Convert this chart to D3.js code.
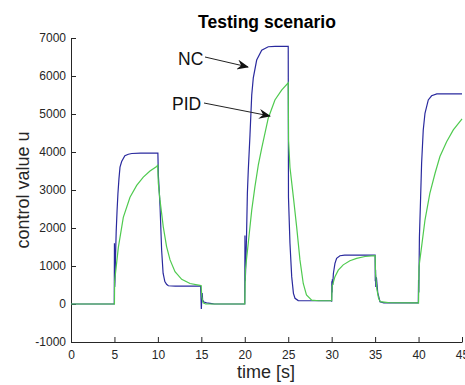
<!DOCTYPE html>
<html>
<head>
<meta charset="utf-8">
<script src="https://cdn.jsdelivr.net/npm/d3@7"></script>
<style>
  html, body { margin: 0; padding: 0; background: #fff; }
  svg { display: block; font-family: "Liberation Sans", Arial, sans-serif; }
</style>
</head>
<body>
<svg id="chart" width="465" height="385"></svg>
<script>
// ---- data ----
const chartTitle = "Testing scenario";
const xLabel = "time [s]";
const yLabel = "control value u";
const xTicks = [0, 5, 10, 15, 20, 25, 30, 35, 40, 45];
const yTicks = [-1000, 0, 1000, 2000, 3000, 4000, 5000, 6000, 7000];

const ncTime = [0, 4.98, 5.0, 5.03, 5.06, 5.12, 5.2, 5.3, 5.4, 5.52, 5.64, 5.83, 6.2, 6.6, 7.0, 8.0, 9.97,
  10.0, 10.05, 10.1, 10.25, 10.43, 10.6, 10.8, 11.0, 11.2, 12.0, 14.92,
  15.0, 15.05, 15.1, 15.15, 15.3, 15.6, 16.2, 16.5, 19.97,
  20.0, 20.02, 20.05, 20.1, 20.2, 20.3, 20.4, 20.6, 20.8, 20.98, 21.37, 21.95, 22.7, 23.5, 25.0,
  25.03, 25.2, 25.4, 25.6, 25.78, 26.15, 27.7, 29.98,
  30.0, 30.02, 30.05, 30.08, 30.12, 30.2, 30.38, 30.57, 30.95, 31.5, 35.0,
  35.02, 35.05, 35.08, 35.15, 35.3, 35.56, 36.0, 39.97,
  40.0, 40.03, 40.1, 40.24, 40.35, 40.54, 40.74, 41.12, 41.5, 42.1, 45.0];
const ncValue = [0, 0, 1600, 450, 600, 1200, 1900, 2450, 2900, 3300, 3600, 3750, 3900, 3940, 3960, 3970, 3970,
  3970, 3400, 3200, 2560, 1420, 810, 590, 520, 480, 470, 470,
  -130, 150, 290, 100, 50, 30, 10, 0, 0,
  0, 1800, 600, 900, 1770, 2920, 3500, 4450, 5500, 5950, 6420, 6680, 6770, 6780, 6780,
  2800, 1600, 720, 280, 150, 90, 85, 85,
  60, 600, 300, 650, 500, 810, 1070, 1200, 1270, 1285, 1290,
  600, 900, 450, 700, 300, 60, 30, 30,
  630, 300, 1770, 2820, 3700, 4580, 5020, 5370, 5480, 5530, 5530];

const pidTime = [0, 5.0, 5.02, 5.15, 5.45, 6.02, 6.79, 7.56, 8.32, 9.09, 9.86, 9.98,
  10.05, 10.24, 10.62, 11.0, 11.4, 11.97, 12.74, 13.7, 14.84, 14.98, 15.05, 15.2, 15.5, 20.0,
  20.07, 20.4, 20.8, 21.17, 21.56, 21.95, 22.7, 23.47, 24.24, 25.0,
  25.04, 25.2, 25.6, 25.97, 26.35, 26.73, 27.1, 27.7, 28.5, 30.0,
  30.05, 30.38, 30.76, 31.33, 32.1, 32.87, 33.83, 35.0,
  35.05, 35.2, 35.4, 35.6, 36.5, 40.0,
  40.05, 40.35, 40.74, 41.3, 41.9, 42.46, 43.23, 44.0, 44.96, 45.0];
const pidValue = [0, 0, 600, 870, 1490, 2280, 2810, 3120, 3340, 3500, 3620, 3650,
  3180, 2740, 2030, 1510, 1160, 850, 650, 540, 490, 480, 200, 30, 0, 0,
  900, 1600, 2470, 3090, 3660, 4100, 4890, 5370, 5630, 5820,
  4300, 3600, 2800, 2030, 1160, 540, 240, 100, 85, 85,
  460, 720, 890, 1030, 1140, 1200, 1250, 1270,
  800, 400, 150, 60, 35, 30,
  980, 1510, 2210, 2910, 3440, 3880, 4270, 4580, 4860, 4870];

const annotations = [
  { text: "NC", tx: 178, ty: 65, x1: 205, y1: 57, x2: 248, y2: 67 },
  { text: "PID", tx: 172, ty: 110, x1: 204, y1: 103, x2: 270, y2: 116 }
];

// ---- chart ----
const svg = d3.select("#chart");
const mLeft = 71, mRight = 462, mTop = 38, mBottom = 342;
const x = d3.scaleLinear().domain([0, 45]).range([mLeft, mRight]);
const y = d3.scaleLinear().domain([-1000, 7000]).range([mBottom, mTop]);
const axisColor = "#262626";
const plainFmt = d => String(d);

// axes
const xAxis = svg.append("g").attr("transform", `translate(0,${mBottom})`)
  .call(d3.axisBottom(x).tickValues(xTicks).tickFormat(plainFmt)
    .tickSizeInner(-5).tickSizeOuter(0).tickPadding(8));
const yAxis = svg.append("g").attr("transform", `translate(${mLeft},0)`)
  .call(d3.axisLeft(y).tickValues(yTicks).tickFormat(plainFmt)
    .tickSizeInner(-5).tickSizeOuter(0).tickPadding(5));
[xAxis, yAxis].forEach(g => {
  g.select(".domain").attr("stroke", axisColor).attr("stroke-width", 1);
  g.selectAll(".tick line").attr("stroke", axisColor).attr("stroke-width", 1);
  g.selectAll(".tick text").attr("fill", axisColor).style("font-size", "12px")
    .style("font-family", '"Liberation Sans", Arial, sans-serif');
});

// lines
const ncData = ncTime.map((t, i) => [t, ncValue[i]]);
const pidData = pidTime.map((t, i) => [t, pidValue[i]]);
const line = d3.line().x(d => x(d[0])).y(d => y(d[1]));
svg.append("path").datum(ncData).attr("d", line)
  .attr("fill", "none").attr("stroke", "#2a2a9e").attr("stroke-width", 1.2);
svg.append("path").datum(pidData).attr("d", line)
  .attr("fill", "none").attr("stroke", "#4fca4f").attr("stroke-width", 1.2);

// title & labels
svg.append("text").attr("x", 267).attr("y", 28).attr("text-anchor", "middle")
  .style("font-size", "17.5px").style("font-weight", "bold").attr("fill", "#000").text(chartTitle);
svg.append("text").attr("x", 266).attr("y", 378).attr("text-anchor", "middle")
  .style("font-size", "18px").attr("fill", axisColor).text(xLabel);
svg.append("text").attr("transform", `translate(29,${(mTop + mBottom) / 2}) rotate(-90)`)
  .attr("text-anchor", "middle").style("font-size", "18px").attr("fill", axisColor).text(yLabel);

// annotations with arrows
svg.append("defs").append("marker").attr("id", "arrow")
  .attr("viewBox", "0 0 12 10").attr("refX", 11).attr("refY", 5)
  .attr("markerWidth", 12).attr("markerHeight", 10).attr("markerUnits", "userSpaceOnUse")
  .attr("orient", "auto")
  .append("path").attr("d", "M0,0 L12,5 L0,10 L4,5 Z").attr("fill", "#111");
annotations.forEach(a => {
  svg.append("text").attr("x", a.tx).attr("y", a.ty).style("font-size", "17.5px")
    .attr("fill", "#111").text(a.text);
  svg.append("line").attr("x1", a.x1).attr("y1", a.y1).attr("x2", a.x2).attr("y2", a.y2)
    .attr("stroke", "#222").attr("stroke-width", 1).attr("marker-end", "url(#arrow)");
});
</script>
</body>
</html>
